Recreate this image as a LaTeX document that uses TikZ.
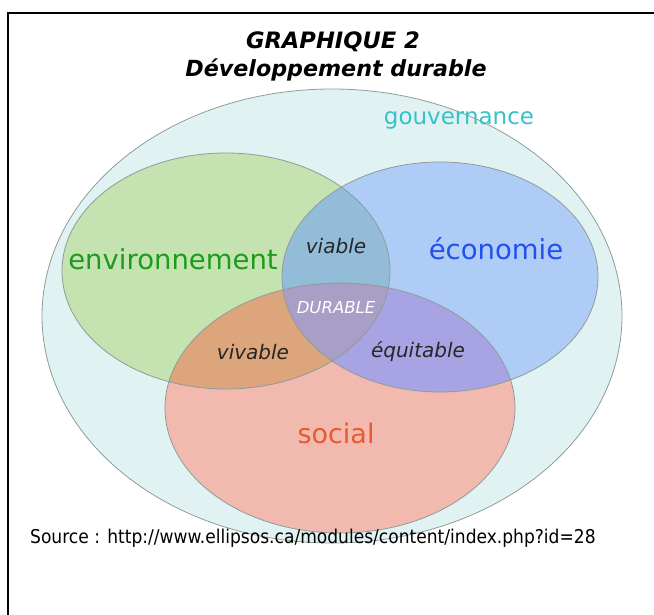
\documentclass[tikz,border=0pt]{standalone}
\usepackage{fontspec}
\setmainfont{DejaVu Sans}
\newfontfamily\srcfont{DejaVu Sans Condensed}
\usepackage{tikz}
\definecolor{gouvfill}{HTML}{E1F2F2}
\definecolor{envfill}{HTML}{C5E3B0}
\definecolor{ecofill}{HTML}{AECCF5}
\definecolor{socfill}{HTML}{F2B9AE}
\definecolor{viafill}{HTML}{93BCD9}
\definecolor{vivfill}{HTML}{DDA57C}
\definecolor{equfill}{HTML}{A8A4E4}
\definecolor{durfill}{HTML}{A89EC6}
\definecolor{zoneline}{HTML}{8E9C9C}
\definecolor{gouvtext}{HTML}{36C2C8}
\definecolor{envtext}{HTML}{1E9B1E}
\definecolor{ecotext}{HTML}{2150F0}
\definecolor{soctext}{HTML}{E65A32}
\newcommand\gouvzone{(332,316) ellipse [x radius=290pt,y radius=227pt]}
\newcommand\envzone{(226,271) ellipse [x radius=164pt,y radius=118pt]}
\newcommand\ecozone{(440,277) ellipse [x radius=158pt,y radius=115pt]}
\newcommand\soczone{(340,408) ellipse [x radius=175pt,y radius=125pt]}
\tikzstyle{zone}=[draw=zoneline,line width=.8pt]
\tikzstyle{pillar}=[inner sep=0pt,font=\fontsize{27.5}{30}\selectfont]
\tikzstyle{meet}=[inner sep=0pt,text=black!85,font=\fontsize{20}{22}\selectfont\itshape]
\tikzstyle{titre}=[inner sep=0pt,font=\fontsize{22.6}{24}\selectfont\bfseries\itshape]

\begin{document}
\begin{tikzpicture}[x=1pt,y=-1pt]
	\useasboundingbox (0,0) rectangle (654,615);
	\fill[white] (0,0) rectangle (654,615);
	\draw[line width=2pt] (8,615) -- (8,13) -- (654,13);
	% les trois piliers dans la gouvernance
	\fill[gouvfill] \gouvzone;
	\fill[envfill] \envzone;
	\fill[ecofill] \ecozone;
	\fill[socfill] \soczone;
	\begin{scope}
		\clip \envzone;
		\fill[viafill] \ecozone;
		\fill[vivfill] \soczone;
		\clip \ecozone;
		\fill[durfill] \soczone;
	\end{scope}
	\begin{scope}
		\clip \ecozone;
		\clip \soczone;
		\fill[equfill, even odd rule] \envzone (0,0) rectangle (654,615);
	\end{scope}
	\draw[zone] \gouvzone;
	\draw[zone] \envzone;
	\draw[zone] \ecozone;
	\draw[zone] \soczone;
	% textes
	\node[titre] (t1) at (333,42) {GRAPHIQUE 2};
	\node[titre,font=\fontsize{22.2}{24}\selectfont\bfseries\itshape] (t2) at (336,70) {Développement durable};
	\node[pillar,text=gouvtext,font=\fontsize{23}{26}\selectfont] (gouv) at (459,120) {gouvernance};
	\node[pillar,text=envtext] (env) at (173,259) {environnement};
	\node[pillar,text=ecotext] (eco) at (496,249) {économie};
	\node[pillar,text=soctext,font=\fontsize{27}{30}\selectfont] (soc) at (336,433) {social};
	\node[meet] (via) at (336,246) {viable};
	\node[meet,text=white,font=\fontsize{16.5}{18}\selectfont\itshape] (dur) at (336,308) {DURABLE};
	\node[meet] (viv) at (253,352) {vivable};
	\node[meet] (equ) at (418,352) {équitable};
	\node[inner sep=0pt,anchor=west,font=\srcfont\fontsize{19}{21}\selectfont] (src) at (30,538) {Source : http://www.ellipsos.ca/modules/content/index.php?id=28};
\end{tikzpicture}
\end{document}
